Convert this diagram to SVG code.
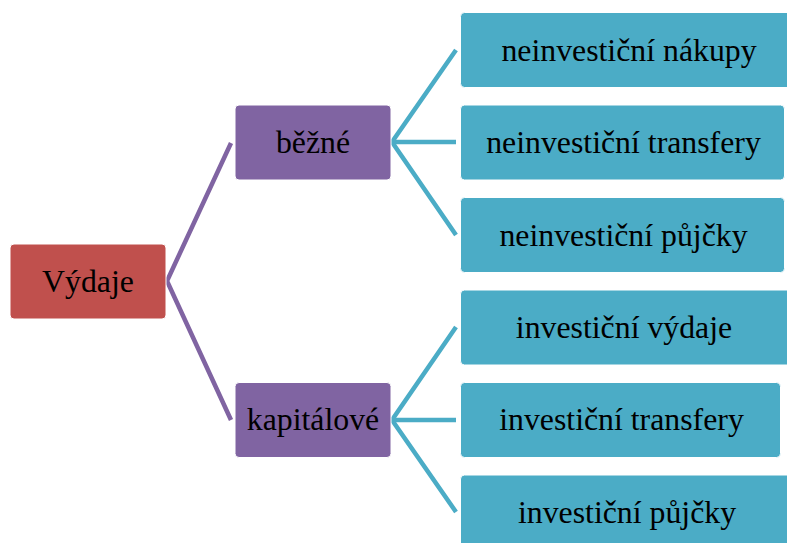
<svg xmlns="http://www.w3.org/2000/svg" width="787" height="543" viewBox="0 0 787 543">
<style>
.box{stroke:#ffffff;stroke-width:1}
.red{fill:#C0504D}
.pur{fill:#8064A2}
.teal{fill:#4BACC6}
.lbl{font-family:"Liberation Serif","Times New Roman",serif;font-size:31.8px;fill:#000;text-anchor:middle}
.lp{stroke:#8064A2;stroke-width:4.5;fill:none;stroke-linejoin:miter}
.lt{stroke:#4BACC6;stroke-width:4.5;fill:none;stroke-linejoin:miter}
</style>
<g id="connectors">
<polyline class="lp" points="231,143 167,281 231,420"/>
<polyline class="lt" points="456,50 392,142 456,235"/>
<line class="lt" x1="392" y1="142" x2="456" y2="142"/>
<polyline class="lt" points="456,327 392,420 456,512"/>
<line class="lt" x1="392" y1="420" x2="456" y2="420"/>
</g>
<g id="vydaje">
<rect class="box red" x="10" y="244" width="156" height="75" rx="4"/>
<text class="lbl" x="88" y="292">Výdaje</text>
</g>
<g id="bezne">
<rect class="box pur" x="235" y="105" width="156" height="75" rx="4"/>
<text class="lbl" x="313" y="153">běžné</text>
</g>
<g id="kapitalove">
<rect class="box pur" x="235" y="382.5" width="156" height="75" rx="4"/>
<text class="lbl" x="313" y="430">kapitálové</text>
</g>
<g id="neinv-nakupy">
<rect class="box teal" x="460.5" y="12.5" width="336" height="75" rx="4"/>
<text class="lbl" x="629" y="61">neinvestiční nákupy</text>
</g>
<g id="neinv-transfery">
<rect class="box teal" x="460.5" y="105" width="324" height="75" rx="4"/>
<text class="lbl" x="623.5" y="153">neinvestiční transfery</text>
</g>
<g id="neinv-pujcky">
<rect class="box teal" x="460.5" y="197.5" width="324" height="75" rx="4"/>
<text class="lbl" x="623.5" y="246">neinvestiční půjčky</text>
</g>
<g id="inv-vydaje">
<rect class="box teal" x="460.5" y="290" width="336" height="75" rx="4"/>
<text class="lbl" x="624" y="338">investiční výdaje</text>
</g>
<g id="inv-transfery">
<rect class="box teal" x="460.5" y="382.5" width="320" height="75" rx="4"/>
<text class="lbl" x="621.5" y="430">investiční transfery</text>
</g>
<g id="inv-pujcky">
<rect class="box teal" x="460.5" y="475" width="336" height="80" rx="4"/>
<text class="lbl" x="627" y="523">investiční půjčky</text>
</g>
</svg>
